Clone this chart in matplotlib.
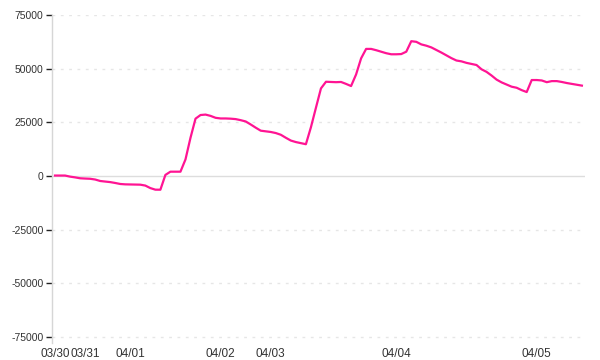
import matplotlib
matplotlib.use("Agg")
import matplotlib.pyplot as plt
import numpy as np

# Series values (evenly spaced points)
values = [
    200, 200, 200, -300, -650, -1070, -1200, -1300, -1650, -2330,
    -2600, -2850, -3260, -3730, -3900, -3950, -4000, -4050, -4470, -5640,
    -6380, -6400, 500, 2000, 2000, 2000, 7700, 17800, 26700, 28400,
    28600, 28000, 27100, 26800, 26800, 26700, 26500, 26000, 25400, 24000,
    22500, 21100, 20800, 20500, 20000, 19200, 17800, 16500, 15800, 15300,
    14800, 22700, 31800, 40800, 43900, 43800, 43700, 43800, 42900, 41900,
    47300, 54800, 59200, 59200, 58600, 57900, 57200, 56700, 56700, 56800,
    57900, 62800, 62500, 61300, 60700, 59900, 58700, 57500, 56200, 54900,
    53800, 53400, 52700, 52200, 51700, 49700, 48500, 46800, 44900, 43600,
    42600, 41600, 41100, 40000, 39100, 44700, 44700, 44500, 43700, 44200,
    44200, 43800, 43300, 42900, 42500, 42100,
]
tick_index = [0, 6, 15, 33, 43, 68, 96]
tick_labels = ["03/30", "03/31", "04/01", "04/02", "04/03", "04/04", "04/05"]
y_ticks = [-75000, -50000, -25000, 0, 25000, 50000, 75000]

W, H = 600, 360
fig = plt.figure(figsize=(6, 3.6), dpi=100)
left, right, top, bottom = 52, 585, 15, 343.4
ax = fig.add_axes([left / W, 1 - bottom / H, (right - left) / W, (bottom - top) / H])

x = np.arange(len(values))
ax.plot(x, values, color="#ff1493", lw=1.6, solid_joinstyle="round", zorder=3)

ax.set_xlim(-0.6, len(values) - 1 + 0.62)
ax.set_ylim(-78000, 75000)

for yv in y_ticks:
    if yv == 0:
        ax.axhline(yv, color="#dddddd", lw=1.0, zorder=1)
    else:
        ax.axhline(yv, color="#e6e6e6", lw=1.0, ls=(0, (2, 4)), zorder=1)

for s in ["top", "right", "bottom"]:
    ax.spines[s].set_visible(False)
ax.spines["left"].set_color("#d6d6d6")
ax.spines["left"].set_linewidth(1.0)

ax.set_yticks(y_ticks)
ax.set_yticklabels([str(v) for v in y_ticks])
ax.set_xticks(tick_index)
ax.set_xticklabels(tick_labels)
ax.tick_params(axis="y", length=4, width=1, color="#222222", pad=2,
               labelsize=7.5, labelcolor="#333333")
ax.tick_params(axis="x", length=0, pad=3, labelsize=8.5, labelcolor="#333333")
for lab in ax.get_xticklabels() + ax.get_yticklabels():
    lab.set_family("Liberation Sans")

fig.savefig("out.png", dpi=100)
